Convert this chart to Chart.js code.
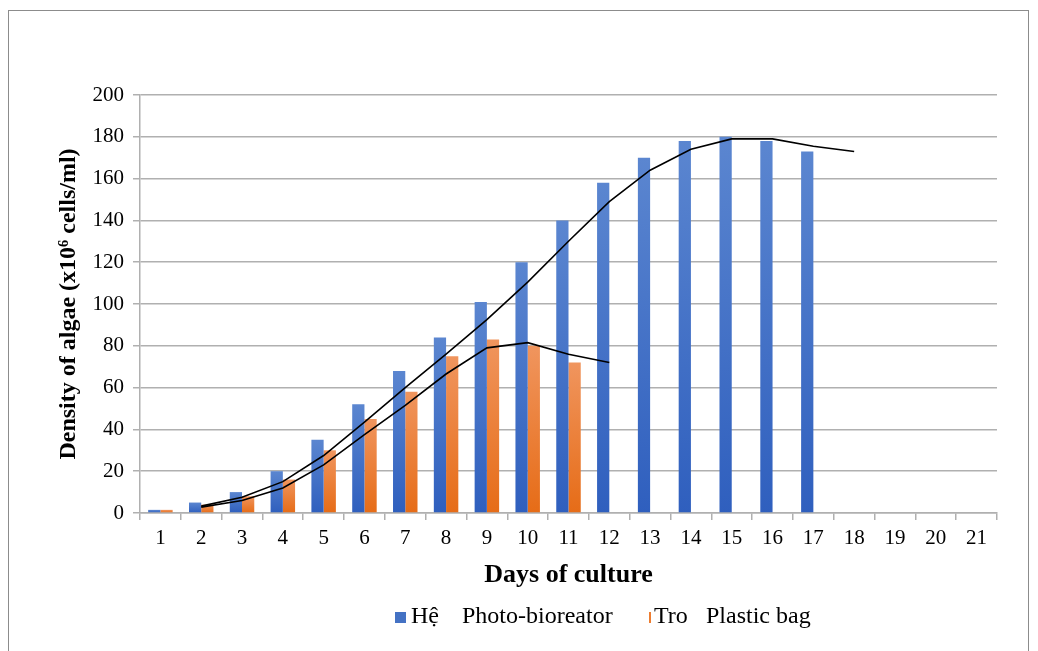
<!DOCTYPE html>
<html>
<head>
<meta charset="utf-8">
<script src="https://cdn.jsdelivr.net/npm/chart.js@4.4.1/dist/chart.umd.min.js"></script>
<style>
  html, body { margin: 0; padding: 0; background: #fff; }
  .frame { position: absolute; left: 8px; top: 10px; width: 1021px; height: 660px; border: 1px solid #8c8c8c; box-sizing: border-box; }
  .wrap { position: absolute; left: 0; top: 0; width: 1038px; height: 651px; }
</style>
</head>
<body>
<div class="frame"></div>
<div class="wrap"><canvas id="algaeChart"></canvas></div>
<script>
// ===== DATA =====
const days = ["1", "2", "3", "4", "5", "6", "7", "8", "9", "10", "11", "12", "13", "14", "15", "16", "17", "18", "19", "20", "21"];
const photoBioreactor = [1.5, 5, 10, 20, 35, 52, 68, 84, 101, 120, 140, 158, 170, 178, 180, 178, 173, null, null, null, null];
const plasticBag = [1.5, 4, 8, 16, 30, 45, 58, 75, 83, 80, 72, null, null, null, null, null, null, null, null, null, null];
// trend lines (2-period moving average)
const photoTrend = [null, 3.3, 7.5, 15, 27.5, 43.5, 60, 76, 92.5, 110.5, 130, 149, 164, 174, 179, 179, 175.5, 173, null, null, null];
const bagTrend = [null, 2.8, 6, 12, 23, 37.5, 51.5, 66.5, 79, 81.5, 76, 72, null, null, null, null, null, null, null, null, null];
const yTicks = [0, 20, 40, 60, 80, 100, 120, 140, 160, 180, 200];
const legendNames = [["Hệ", "Photo-bioreator"], ["Tro", "Plastic bag"]];

const serif = "'Liberation Serif', 'Times New Roman', serif";

// vertical gradient per bar, lighter at top
function barGradient(top, bottom) {
  return (ctx) => {
    const chart = ctx.chart;
    const y = chart.scales && chart.scales.y;
    if (!y || ctx.raw == null || !chart.chartArea) return bottom;
    const y0 = y.getPixelForValue(0);
    const y1 = y.getPixelForValue(ctx.raw);
    if (!isFinite(y0) || !isFinite(y1) || y0 === y1) return bottom;
    const g = chart.ctx.createLinearGradient(0, y1, 0, y0);
    g.addColorStop(0, top);
    g.addColorStop(1, bottom);
    return g;
  };
}

// ===== LEGEND (drawn like the original: square marker + thin line marker) =====
const bottomLegend = {
  id: "bottomLegend",
  afterDraw(chart) {
    const c = chart.ctx;
    c.save();
    c.font = "24px " + serif;
    c.textBaseline = "alphabetic";
    const base = 623;
    // first item
    c.fillStyle = "#4472c4";
    c.fillRect(395, 612, 11, 11);
    c.fillStyle = "#000";
    c.fillText(legendNames[0][0], 411, base);
    c.fillText(legendNames[0][1], 462, base);
    // second item
    c.fillStyle = "#ed7d31";
    c.fillRect(649, 612, 2, 11);
    c.fillStyle = "#000";
    c.fillText(legendNames[1][0], 654, base);
    c.fillText(legendNames[1][1], 706, base);
    c.restore();
  },
};

const ctx = document.getElementById("algaeChart").getContext("2d");

new Chart(ctx, {
  data: {
    labels: days,
    datasets: [
      {
        type: "line",
        data: photoTrend,
        borderColor: "#000",
        borderWidth: 1.6,
        pointRadius: 0,
        tension: 0,
        order: 0,
      },
      {
        type: "line",
        data: bagTrend,
        borderColor: "#000",
        borderWidth: 1.6,
        pointRadius: 0,
        tension: 0,
        order: 0,
      },
      {
        type: "bar",
        label: "Photo-bioreator",
        data: photoBioreactor,
        backgroundColor: barGradient("#5b86d0", "#2f5fbe"),
        categoryPercentage: 0.6,
        barPercentage: 1,
        order: 1,
      },
      {
        type: "bar",
        label: "Plastic bag",
        data: plasticBag,
        backgroundColor: barGradient("#f0955e", "#e66c17"),
        categoryPercentage: 0.6,
        barPercentage: 1,
        order: 1,
      },
    ],
  },
  plugins: [bottomLegend],
  options: {
    responsive: true,
    maintainAspectRatio: false,
    animation: false,
    layout: { padding: { left: 54, right: 41, top: 95, bottom: 60 } },
    plugins: {
      tooltip: { enabled: false },
      legend: { display: false },
    },
    scales: {
      x: {
        offset: true,
        afterFit: (scale) => { scale.height = 78; },
        grid: { offset: true, drawOnChartArea: false, drawTicks: true, tickLength: 7, color: "#b0b0b0", lineWidth: 1.5 },
        border: { color: "#b0b0b0", width: 1.5 },
        ticks: { font: { family: serif, size: 21 }, color: "#000", padding: 6, maxRotation: 0, autoSkip: false },
        title: {
          display: true,
          text: "Days of culture",
          font: { family: serif, size: 26, weight: "bold" },
          color: "#000",
          padding: { top: 6, bottom: 0 },
        },
      },
      y: {
        min: 0,
        max: 200,
        afterFit: (scale) => { scale.width = 140 - 54; },
        afterBuildTicks: (scale) => { scale.ticks = yTicks.map((v) => ({ value: v })); },
        grid: { color: "#b0b0b0", lineWidth: 1.5, tickLength: 7 },
        border: { color: "#b0b0b0", width: 1.5 },
        ticks: { font: { family: serif, size: 21 }, color: "#000", padding: 9 },
        title: {
          display: true,
          text: "Density of algae (x10⁶ cells/ml)",
          font: { family: serif, size: 24, weight: "bold" },
          color: "#000",
          padding: { top: 0, bottom: 8 },
        },
      },
    },
  },
});
</script>
</body>
</html>
